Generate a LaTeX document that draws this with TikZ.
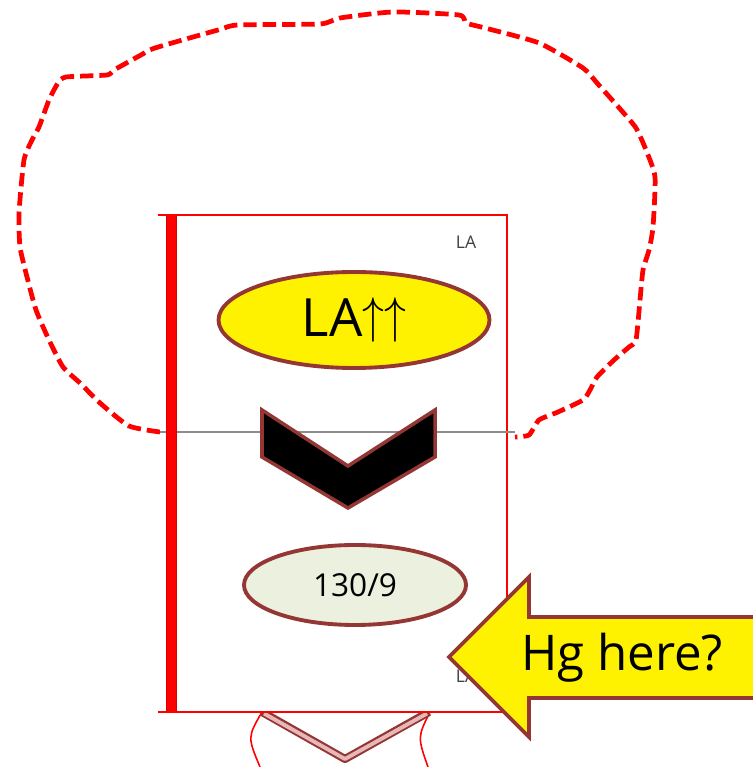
\documentclass[tikz,border=0pt]{standalone}
\usepackage{fontspec}
\setmainfont{Open Sans}
\usetikzlibrary{shapes.geometric,positioning,calc}
\definecolor{brn}{RGB}{148,54,52}
\definecolor{pale}{RGB}{235,241,222}
\definecolor{pinkband}{RGB}{230,185,184}

\tikzset{
  bubble/.style={ellipse,draw=brn,line width=2.2pt,inner sep=0pt},
  tag/.style={font=\fontsize{10}{10}\selectfont,text=black!75}
}

\begin{document}
\begin{tikzpicture}
  \useasboundingbox (0,0) rectangle (15.04,15.34);
  % dashed outline round the upper part
  \draw[red,line width=2.7pt,dash pattern=on 7.6pt off 3.4pt,line join=round]
    plot[smooth,tension=0.35] coordinates {
      (3.2,6.7) (2.58,6.82) (2.0,7.28) (1.6,7.68) (1.26,8.0) (0.98,8.54)
      (0.72,9.14) (0.54,9.8) (0.4,10.4) (0.38,11.08) (0.48,12.14) (0.64,12.54)
      (0.78,12.8) (0.98,13.34) (1.16,13.68) (1.32,13.8) (2.14,13.84) (2.28,13.94)
      (2.82,14.24) (3.1,14.38) (4.36,14.74) (4.76,14.84) (6.4,14.86) (6.8,14.98)
      (7.86,15.1) (9.18,15.04) (9.32,14.88) (9.7,14.78) (10.78,14.48) (11.66,13.98)
      (11.94,13.68) (12.42,13.14) (12.72,12.78) (12.92,12.34) (13.1,11.8) (13.06,10.8)
      (12.98,10.34) (12.86,9.94) (12.8,9.34) (12.72,8.54) (12.58,8.4) (12.28,8.14)
      (11.94,7.8) (11.8,7.54) (11.66,7.34) (11.16,7.1) (10.78,6.94) (10.58,6.64)
      (10.3,6.6)};
  % cell below
  \draw[red,line width=0.9pt] (5.24,1.1) .. controls (4.95,0.6) .. (5.2,0);
  \draw[red,line width=0.9pt] (8.6,1.1) .. controls (8.35,0.6) .. (8.56,0);
  \draw[brn,line width=4.6pt,line join=round] (5.24,1.1) -- (6.9,0.16) -- (8.58,1.1);
  \draw[pinkband,line width=2.2pt,line join=round] (5.28,1.07) -- (6.9,0.16) -- (8.54,1.07);
  % the cell
  \fill[white] (3.2,1.1) rectangle (10.14,11.04);
  \draw[red,line width=1.1pt] (3.16,11.04) -- (10.14,11.04) -- (10.14,1.1) -- (3.16,1.1);
  \draw[black!45,line width=1.2pt] (3.2,6.7) -- (10.3,6.7);
  \draw[red!85!black,line width=6.4pt] (3.43,1.1) -- (3.43,11.04);
  \draw[red,line width=4.8pt] (3.43,1.1) -- (3.43,11.04);
  \node[tag] (la) at (9.32,10.5) {LA};
  \node[bubble,fill=yellow,minimum width=5.42cm,minimum height=1.92cm,
        font=\fontsize{30}{30}\selectfont] (rise) at (7.08,8.94)
        {LA\raisebox{2pt}{\scalebox{1}[1.15]{$\uparrow\uparrow$}}};
  % chevron pointing down
  \draw[brn,line width=2pt,fill=black,line join=miter]
    (5.24,7.14) -- (6.96,6.02) -- (8.7,7.14) -- (8.7,6.2) -- (6.96,5.18) -- (5.24,6.2) -- cycle;
  \node[bubble,fill=pale,minimum width=4.44cm,minimum height=1.6cm,
        font=\fontsize{18}{18}\selectfont] (ratio) at (7.1,3.64) {130/9};
  \node[tag] (la2) at (9.32,1.82) {LA};
  % pointer
  \draw[brn,line width=2.2pt,fill=yellow,line join=miter]
    (8.98,2.2) -- (10.58,3.8) -- (10.58,3.0) -- (15.4,3.0) -- (15.4,1.38)
    -- (10.58,1.38) -- (10.58,0.6) -- cycle;
  \node[font=\fontsize{28}{28}\selectfont] (hg) at (12.44,2.18) {Hg here?};
\end{tikzpicture}
\end{document}
